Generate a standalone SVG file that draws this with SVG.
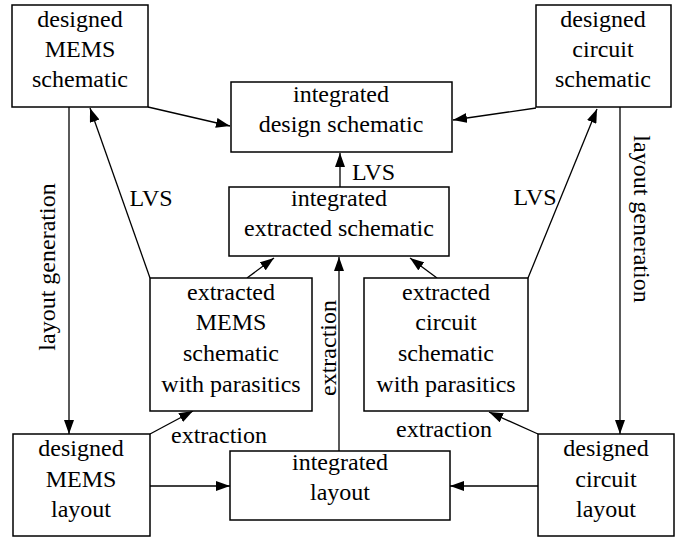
<svg xmlns="http://www.w3.org/2000/svg" width="684" height="539" viewBox="0 0 684 539">
<defs>
<marker id="ah" markerWidth="14" markerHeight="10" refX="14" refY="5" orient="auto" markerUnits="userSpaceOnUse">
<path d="M0,0 L14,5 L0,10 z" fill="#000"/>
</marker>
<style>
rect{fill:#fff;stroke:#000;stroke-width:1.5}
text{font-family:'Liberation Serif',serif;font-size:24px;fill:#000}
.c{text-anchor:middle}
line{stroke:#000;stroke-width:1.3;fill:none}
.a{marker-end:url(#ah)}
</style>
</defs>
<rect x="0" y="0" width="684" height="539" style="stroke:none"/>
<g id="connectors">
<line class="a" x1="148" y1="107" x2="230" y2="126"/>
<line class="a" x1="536" y1="108" x2="453" y2="120"/>
<line class="a" x1="150" y1="278" x2="90" y2="108"/>
<line class="a" x1="528" y1="278" x2="597" y2="109"/>
<line class="a" x1="340" y1="187" x2="340" y2="153"/>
<line class="a" x1="247" y1="278" x2="274" y2="258"/>
<line class="a" x1="437" y1="278" x2="410" y2="258"/>
<line class="a" x1="339" y1="451" x2="339" y2="257"/>
<line class="a" x1="69" y1="107" x2="69" y2="434"/>
<line class="a" x1="620" y1="107" x2="620" y2="434"/>
<line class="a" x1="150" y1="434" x2="193" y2="411"/>
<line class="a" x1="538" y1="434" x2="489" y2="412"/>
<line class="a" x1="150" y1="486" x2="230" y2="486"/>
<line class="a" x1="538" y1="486" x2="450" y2="486"/>
<text class="c" x="151" y="206" font-family="'Liberation Serif', serif">LVS</text>
<text class="c" x="535" y="205">LVS</text>
<text x="352" y="180">LVS</text>
<text class="c" transform="translate(336,348) rotate(-90)">extraction</text>
<text class="c" transform="translate(55,267) rotate(-90)">layout generation</text>
<text class="c" transform="translate(634,219) rotate(90)">layout generation</text>
<text class="c" x="219" y="443">extraction</text>
<text class="c" x="444" y="437">extraction</text>
</g>
<g id="mems-schematic">
<rect x="12" y="5" width="136" height="102"/>
<text class="c" x="80" y="27">designed</text>
<text class="c" x="80" y="57">MEMS</text>
<text class="c" x="80" y="87">schematic</text>
</g>
<g id="circuit-schematic">
<rect x="536" y="5" width="135" height="102"/>
<text class="c" x="603" y="27">designed</text>
<text class="c" x="603" y="57">circuit</text>
<text class="c" x="603" y="87">schematic</text>
</g>
<g id="integrated-design">
<rect x="231" y="82" width="221" height="70"/>
<text class="c" x="341" y="102">integrated</text>
<text class="c" x="341" y="132">design schematic</text>
</g>
<g id="integrated-extracted">
<rect x="229" y="187" width="220" height="69"/>
<text class="c" x="339" y="206">integrated</text>
<text class="c" x="339" y="236">extracted schematic</text>
</g>
<g id="extracted-mems">
<rect x="150" y="278" width="162" height="133"/>
<text class="c" x="231" y="300">extracted</text>
<text class="c" x="231" y="330">MEMS</text>
<text class="c" x="231" y="361">schematic</text>
<text class="c" x="231" y="392">with parasitics</text>
</g>
<g id="extracted-circuit">
<rect x="364" y="278" width="164" height="133"/>
<text class="c" x="446" y="300">extracted</text>
<text class="c" x="446" y="330">circuit</text>
<text class="c" x="446" y="361">schematic</text>
<text class="c" x="446" y="392">with parasitics</text>
</g>
<g id="mems-layout">
<rect x="13" y="434" width="137" height="102"/>
<text class="c" x="81" y="456">designed</text>
<text class="c" x="81" y="487">MEMS</text>
<text class="c" x="81" y="517">layout</text>
</g>
<g id="integrated-layout">
<rect x="230" y="451" width="220" height="69"/>
<text class="c" x="340" y="470">integrated</text>
<text class="c" x="340" y="500">layout</text>
</g>
<g id="circuit-layout">
<rect x="538" y="434" width="136" height="102"/>
<text class="c" x="606" y="456">designed</text>
<text class="c" x="606" y="487">circuit</text>
<text class="c" x="606" y="517">layout</text>
</g>
</svg>
